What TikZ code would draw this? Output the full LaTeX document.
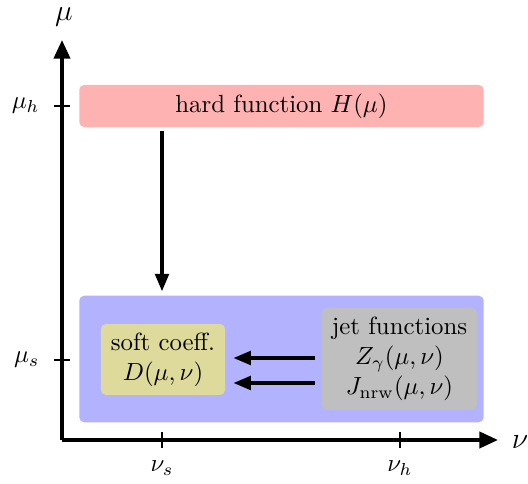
\documentclass[tikz,border=0pt]{standalone}
\usetikzlibrary{arrows.meta,positioning,calc}
\tikzset{
  box/.style={rounded corners=2pt, align=center, inner sep=0pt},
  scalebox/.style={box, fill=blue!30},
  hardbox/.style={box, fill=red!30},
  softbox/.style={box, fill=olive!30},
  jetbox/.style={box, fill=gray!50},
  axis/.style={-{Triangle[length=7.5pt,width=6.5pt]}, line width=1.4pt},
  tick/.style={thick},
  arrow/.style={-{Triangle[length=7pt,width=5.5pt]}, line width=1.3pt},
}

\begin{document}
\begin{tikzpicture}[x=0.403pt, y=-0.403pt]
  \useasboundingbox (0,0) rectangle (528,484);

  % Axes
  \coordinate (origin) at (62,440);
  \coordinate (ytop) at (62,40);
  \coordinate (xend) at (498,440);
  \draw[axis] (origin) -- (ytop);
  \draw[axis] (origin) -- (xend);
  \node[font=\large, inner sep=0pt] (mu) at (64,17) {$\mu$};
  \node[font=\large, inner sep=0pt] (nu) at (520,442) {$\nu$};

  % Ticks
  \coordinate (muh) at (62,106);
  \coordinate (mus) at (62,360);
  \coordinate (nus) at (162,440);
  \coordinate (nuh) at (400,440);
  \draw[tick] ($(muh)+(-8,0)$) -- ($(muh)+(8,0)$);
  \draw[tick] ($(mus)+(-8,0)$) -- ($(mus)+(8,0)$);
  \draw[tick] ($(nus)+(0,-8)$) -- ($(nus)+(0,8)$);
  \draw[tick] ($(nuh)+(0,-8)$) -- ($(nuh)+(0,8)$);
  \node[left=5.5pt of muh] (muhlabel) {$\mu_h$};
  \node[left=5.5pt of mus] (muslabel) {$\mu_s$};
  \node[below=5pt of nus] (nuslabel) {$\nu_s$};
  \node[below=5pt of nuh] (nuhlabel) {$\nu_h$};

  % Boxes
  \node[hardbox, minimum width=163pt, minimum height=17pt] (hard) at (281.5,106) {hard function $H(\mu)$};
  \node[scalebox, minimum width=163pt, minimum height=51pt] (low) at (281.5,359) {};
  \node[softbox, minimum width=50pt, minimum height=28.6pt] (soft) at (163,359.5) {soft coeff.\\$D(\mu,\nu)$};
  \node[jetbox, minimum width=62.5pt, minimum height=41pt] (jet) at (399.5,359) {jet functions\\$Z_\gamma(\mu,\nu)$\\$J_{\rm nrw}(\mu,\nu)$};

  % Running
  \draw[arrow, shorten <=1.2pt, shorten >=1.6pt] (hard.south -| nus) -- (low.north -| nus);
  \draw[arrow, shorten <=2.8pt, shorten >=3.2pt] (jet.west |- 0,358) -- (soft.east |- 0,358);
  \draw[arrow, shorten <=2.8pt, shorten >=3.2pt] (jet.west |- 0,383) -- (soft.east |- 0,383);
\end{tikzpicture}
\end{document}
